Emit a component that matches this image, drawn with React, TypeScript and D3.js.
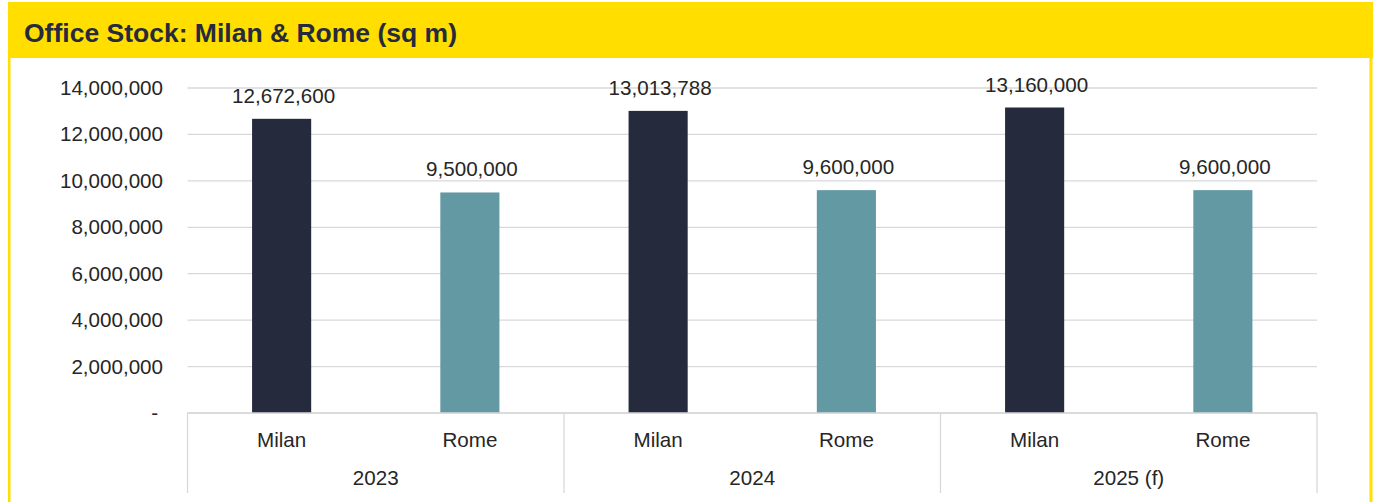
import React from "react";
import * as d3 from "d3";

const years = ["2023", "2024", "2025 (f)"];
const cities = ["Milan", "Rome"];
const milanValues = [12672600, 13013788, 13160000];
const romeValues = [9500000, 9600000, 9600000];
const yTicks = [0, 2000000, 4000000, 6000000, 8000000, 10000000, 12000000, 14000000];
const title = "Office Stock: Milan & Rome (sq m)";

const W = 1373;
const H = 502;
const YELLOW = "#FFDE00";
const NAVY = "#262A3D";
const TEAL = "#6399A2";
const TEXT = "#262626";
const GRID = "#D9D9D9";
const FONT = "'Liberation Sans', Arial, sans-serif";
const FS = 20.6;

export default function App() {
  const left = 187.5;
  const right = 1317;
  const y = d3.scaleLinear().domain([0, 14000000]).range([413, 88]);
  const xGroup = d3.scaleBand<string>().domain(years).range([left, right]).padding(0);
  const xInner = d3
    .scaleBand<string>()
    .domain(cities)
    .range([0, xGroup.bandwidth()])
    .paddingInner(0.686)
    .paddingOuter(0.343);
  const fmt = d3.format(",");
  const colors: Record<string, string> = { Milan: NAVY, Rome: TEAL };
  const data = years.flatMap((yr, i) => [
    { year: yr, city: "Milan", value: milanValues[i] },
    { year: yr, city: "Rome", value: romeValues[i] },
  ]);
  const baseY = y(0);
  const boxBottom = 493;

  return (
    <svg
      width={W}
      height={H}
      style={{ position: "absolute", left: 0, top: 0, display: "block" }}
      fontFamily={FONT}
    >
      <rect x={0} y={0} width={W} height={H} fill="#ffffff" />
      {/* header */}
      <rect x={8} y={2} width={W - 8} height={56} fill={YELLOW} />
      <rect x={8} y={2} width={2.5} height={H - 2} fill={YELLOW} />
      <rect x={1369.5} y={2} width={3} height={H - 2} fill={YELLOW} />
      <text x={24} y={42} fontSize={25} fontWeight="bold" fill={NAVY} textLength={433} lengthAdjust="spacingAndGlyphs">
        {title}
      </text>

      {/* gridlines */}
      {yTicks.map((t) => (
        <line key={t} x1={left} x2={right} y1={y(t)} y2={y(t)} stroke={GRID} strokeWidth={1.3} />
      ))}
      {/* y labels */}
      {yTicks.map((t) => (
        <text
          key={"l" + t}
          x={t === 0 ? 158 : 163}
          y={y(t) + 7}
          fontSize={FS}
          textAnchor="end"
          fill={TEXT}
        >
          {t === 0 ? "-" : fmt(t)}
        </text>
      ))}

      {/* bars */}
      {data.map((d) => {
        const x0 = (xGroup(d.year) as number) + (xInner(d.city) as number);
        const bw = xInner.bandwidth();
        return (
          <g key={d.year + d.city}>
            <rect x={x0} y={y(d.value)} width={bw} height={baseY - y(d.value)} fill={colors[d.city]} />
            <text
              x={x0 + bw / 2 + 2}
              y={y(d.value) - 16}
              fontSize={FS}
              textAnchor="middle"
              fill={TEXT}
            >
              {fmt(d.value)}
            </text>
          </g>
        );
      })}

      {/* category axis box */}
      <line x1={left} x2={right} y1={baseY} y2={baseY} stroke={GRID} strokeWidth={1.3} />
      {[...years.map((yr) => xGroup(yr) as number), right].map((xv, i) => (
        <line key={"v" + i} x1={xv} x2={xv} y1={baseY} y2={boxBottom} stroke={GRID} strokeWidth={1.3} />
      ))}
      {data.map((d) => {
        const cx = (xGroup(d.year) as number) + (xInner(d.city) as number) + xInner.bandwidth() / 2;
        return (
          <text key={"c" + d.year + d.city} x={cx} y={447} fontSize={FS} textAnchor="middle" fill={TEXT}>
            {d.city}
          </text>
        );
      })}
      {years.map((yr) => (
        <text
          key={"y" + yr}
          x={(xGroup(yr) as number) + xGroup.bandwidth() / 2}
          y={485}
          fontSize={FS}
          textAnchor="middle"
          fill={TEXT}
        >
          {yr}
        </text>
      ))}
    </svg>
  );
}
